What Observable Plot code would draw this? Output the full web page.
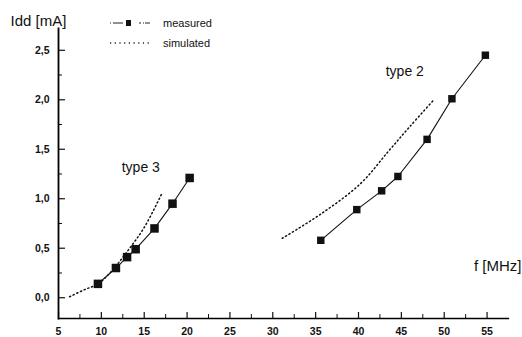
<!DOCTYPE html>
<html><head><meta charset="utf-8">
<script src="https://cdn.jsdelivr.net/npm/d3@7"></script>
<script src="https://cdn.jsdelivr.net/npm/@observablehq/plot@0.6"></script>
<style>
body{margin:0;background:#fff;font-family:"Liberation Sans",Arial,sans-serif;}
#wrap{position:relative;width:522px;height:337px;}
#legend{position:absolute;left:0;top:0;}
</style></head>
<body><div id="wrap"><div id="legend"></div></div>
<script>
const type3Freq = [9.6, 11.7, 13.0, 14.0, 16.2, 18.3, 20.3];
const type3Measured = [0.14, 0.30, 0.41, 0.49, 0.70, 0.95, 1.21];
const type3SimFreq = [6.3, 8.0, 9.6, 11.0, 13.0, 15.0, 17.1];
const type3Simulated = [0.01, 0.08, 0.14, 0.25, 0.465, 0.71, 1.06];
const type2Freq = [35.6, 39.8, 42.7, 44.6, 48.0, 50.9, 54.8];
const type2Measured = [0.58, 0.89, 1.08, 1.225, 1.60, 2.01, 2.45];
const type2SimFreq = [31.1, 35.6, 40.2, 43.5, 46.0, 48.8];
const type2Simulated = [0.60, 0.845, 1.15, 1.48, 1.73, 2.0];
const xTicks = [5, 10, 15, 20, 25, 30, 35, 40, 45, 50, 55];
const xMinor = [7.5, 12.5, 17.5, 22.5, 27.5, 32.5, 37.5, 42.5, 47.5, 52.5];
const yTicks = [0, 0.5, 1.0, 1.5, 2.0, 2.5];
const yMinor = [0.25, 0.75, 1.25, 1.75, 2.25];
const seriesLabels = [{text: "type 3", f: 14.6, v: 1.315}, {text: "type 2", f: 45.4, v: 2.285}];

const pts = (fs, vs, g) => fs.map((f, i) => ({f, v: vs[i], g}));
const meas3 = pts(type3Freq, type3Measured, "t3");
const meas2 = pts(type2Freq, type2Measured, "t2");
const sim3 = pts(type3SimFreq, type3Simulated, "t3");
const sim2 = pts(type2SimFreq, type2Simulated, "t2");
const fmt = d => d3.format(".1f")(d).replace(".", ",");

const chart = Plot.plot({
  width: 522, height: 337,
  marginLeft: 58, marginRight: 14, marginTop: 28, marginBottom: 19,
  style: {fontFamily: "Liberation Sans, Arial, sans-serif", background: "white"},
  x: {domain: [5, 57.5]},
  y: {domain: [-0.21, 2.72]},
  marks: [
    Plot.axisX(xTicks, {tickSize: -6, tickPadding: 15.5, fontSize: 10.5, fontWeight: "bold", fill: "#111", stroke: "#111", strokeWidth: 1.2, label: null}),
    Plot.axisX(xMinor, {tickSize: -4, text: null, label: null, stroke: "#111"}),
    Plot.axisY(yTicks, {tickSize: -7, tickPadding: 16, fontSize: 10.5, fontWeight: "bold", fill: "#111", stroke: "#111", strokeWidth: 1.2, tickFormat: fmt, label: null}),
    Plot.axisY(yMinor, {tickSize: -4, text: null, label: null, stroke: "#111"}),
    Plot.frame({anchor: "bottom", strokeWidth: 1.3}),
    Plot.frame({anchor: "left", strokeWidth: 1.8}),
    Plot.line([...sim3, ...sim2], {x: "f", y: "v", z: "g", curve: "catmull-rom", stroke: "#111", strokeWidth: 1.5, strokeDasharray: "1.2,2.8"}),
    Plot.line([...meas3, ...meas2], {x: "f", y: "v", z: "g", stroke: "#111", strokeWidth: 1.1}),
    Plot.dot(meas3, {x: "f", y: "v", symbol: "square", r: 4.8, fill: "#111"}),
    Plot.dot(meas2, {x: "f", y: "v", symbol: "square", r: 4.2, fill: "#111"}),
    Plot.text(seriesLabels, {x: "f", y: "v", text: "text", fontSize: 14, fill: "#111"}),
    Plot.text(["Idd [mA]"], {frameAnchor: "top-left", dx: -48, dy: -13, textAnchor: "start", fontSize: 15, fill: "#111"}),
    Plot.text(["f [MHz]"], {frameAnchor: "bottom-right", dx: 13, dy: -48, textAnchor: "end", fontSize: 15, fill: "#111"})
  ]
});
document.getElementById("wrap").prepend(chart);

document.getElementById("legend").innerHTML = `
<svg width="522" height="60" style="position:absolute;left:0;top:0">
  <line x1="110" y1="23" x2="150" y2="23" stroke="#222" stroke-width="1" stroke-dasharray="1,2,10,16,2,2,1,1,10"/>
  <rect x="126" y="20" width="5" height="6" fill="#111"/>
  <line x1="110" y1="43" x2="150" y2="43" stroke="#222" stroke-width="1.3" stroke-dasharray="1.2,3.5"/>
  <text x="163" y="27" font-size="11" fill="#111" font-family="Liberation Sans, Arial">measured</text>
  <text x="163" y="47" font-size="11" fill="#111" font-family="Liberation Sans, Arial">simulated</text>
</svg>`;
</script></body></html>
